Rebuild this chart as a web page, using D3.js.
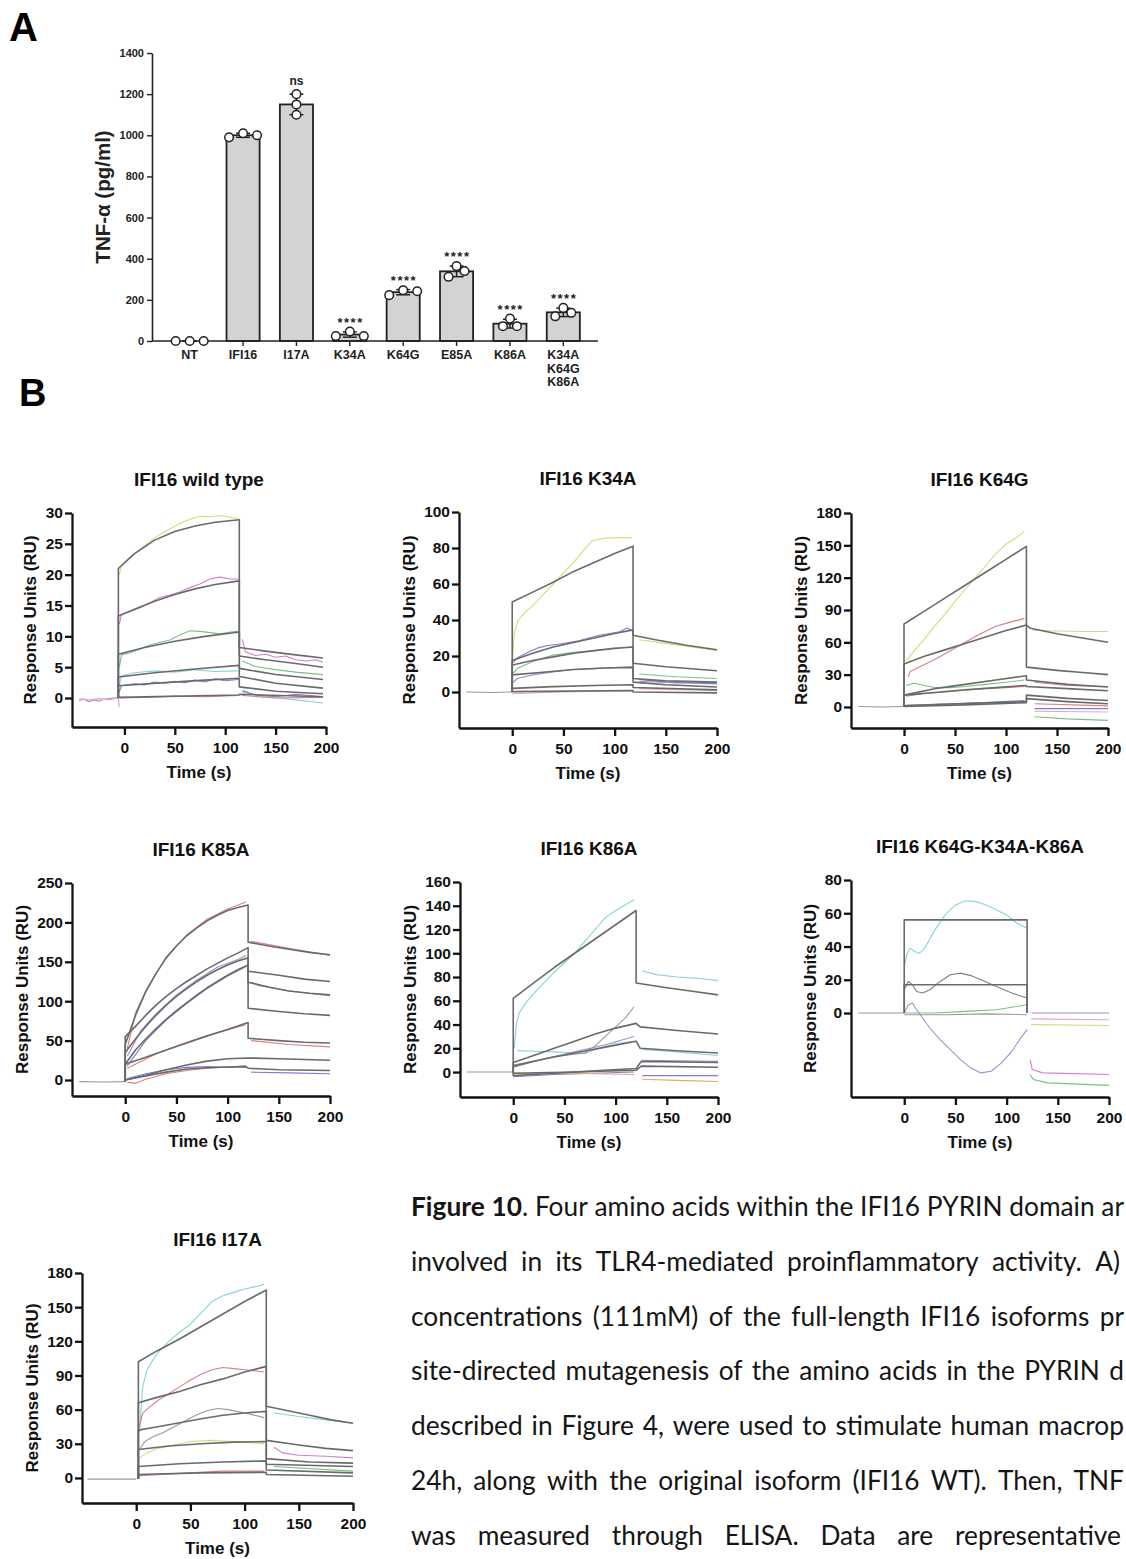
<!DOCTYPE html>
<html>
<head>
<meta charset="utf-8">
<script src="https://cdn.jsdelivr.net/npm/d3@7"></script>
<style>
  body { margin: 0; background: #fff; overflow: hidden; }
  svg { display: block; }
</style>
</head>
<body>
<div id="fig"></div>
<script>
// ---------- panel A : TNF-alpha ELISA ----------
const tnfCats  = ["NT", "IFI16", "I17A", "K34A", "K64G", "E85A", "K86A", "K34A\nK64G\nK86A"];
const tnfReps  = [[0, 0, 0], [990, 1010, 1000], [1200, 1150, 1100], [24, 46, 24],
                  [223, 247, 242], [312, 364, 340], [72, 109, 72], [120, 161, 137]];
const tnfSig   = ["", "", "ns", "****", "****", "****", "****", "****"];
const tnfTicks = [0, 200, 400, 600, 800, 1000, 1200, 1400];

// ---------- panel B : SPR sensorgrams, [time s, RU], null = gap ----------
const spTitles  = ["IFI16 wild type", "IFI16 K34A", "IFI16 K64G", "IFI16 K85A",
                   "IFI16 K86A", "IFI16 K64G-K34A-K86A", "IFI16 I17A"];
const timeTicks = [0, 50, 100, 150, 200];

const wtTicks = [0, 5, 10, 15, 20, 25, 30];
const wtFit = [
  [[-6,0],[-6,21],[10,23.4],[30,25.6],[50,27],[70,27.9],[90,28.5],[114,28.9],[114,8.2],[140,7.6],[170,7.0],[197,6.5]],
  [[-6,0],[-6,13.3],[10,14.4],[30,15.7],[50,16.8],[70,17.7],[90,18.4],[114,19],[114,6.8],[140,6.2],[170,5.6],[197,5.0]],
  [[-6,0],[-6,7.1],[20,8.2],[50,9.2],[80,10.0],[114,10.7],[114,4.8],[150,3.8],[197,3.0]],
  [[-6,0],[-6,3.4],[30,4.1],[70,4.7],[114,5.3],[114,3.5],[150,2.4],[197,1.6]],
  [[-6,0],[-6,2.0],[40,2.5],[80,2.9],[114,3.2],[114,1.8],[150,1.1],[197,0.7]],
  [[-6,0],[-6,0.1],[114,0.5],[114,0.6],[197,0.2]]
];
const wtRaw = [
  [[-5,20],[-3,21.5],[5,22.8],[15,24],[25,25.4],[35,26.5],[45,27.4],[55,28.3],[65,29],[75,29.5],[85,29.4],[95,29.6],[105,29.3],[113,29.1]],
  [[-5,12],[-3,13.5],[5,14],[15,14.6],[25,15.4],[35,16.3],[45,16.7],[55,17.2],[65,17.9],[75,18.5],[85,19.3],[95,19.6],[105,19.3],[113,19.3],null,
   [117,9.5],[120,7.5],[130,6.9],[140,7.1],[150,6.6],[160,6.8],[170,6.2],[180,6.0],[190,6.2],[197,5.8]],
  [[-5,5],[-3,7],[5,7.3],[15,7.9],[25,8.6],[35,9.0],[45,9.4],[55,10.2],[65,10.9],[75,10.8],[85,10.6],[95,10.4],[105,10.7],[113,10.8],null,
   [117,6],[130,5.1],[150,4.6],[170,4.2],[197,3.8]],
  [[-5,2],[-3,3.6],[10,4.1],[30,4.4],[50,4.2],[70,4.6],[90,4.3],[113,4.4],null,[117,1.0],[140,0.2],[170,-0.3],[197,-0.8]],
  [[-5,1],[-3,2.0],[10,2.3],[20,2.1],[30,2.6],[40,2.4],[50,2.7],[60,2.5],[70,2.9],[80,2.6],[90,3.1],[100,2.8],[113,3.0],null,
   [117,1.2],[130,0.5],[150,0.2],[170,0.6],[197,0.2]],
  [[-5,0],[20,0.1],[50,0.3],[80,0.2],[113,0.4],null,[117,0.4],[150,0],[197,0.1]],
  [[-45,-0.4],[-40,-0.2],[-35,-0.6],[-30,-0.3],[-25,-0.5],[-20,-0.2],[-15,-0.1],[-10,0],[-6,0]],
  [[-45,-0.1],[-35,-0.3],[-25,-0.1],[-15,-0.3],[-6,0.1],[-5,-1.5]]
];

const k34Ticks = [0, 20, 40, 60, 80, 100];
const k34Fit = [
  [[0,0],[0,50],[20,55.5],[40,61],[60,67],[80,72],[100,77],[118,81],[118,31.5],[140,29],[170,26],[200,23.5]],
  [[0,0],[0,17.5],[20,21.5],[40,25],[60,27.5],[80,30],[100,32.5],[118,34.5],[118,16],[150,14],[200,11.8]],
  [[0,0],[0,15],[20,17.5],[40,19.5],[60,21.5],[80,23],[100,24.2],[118,25],[118,7.5],[150,6.2],[200,5.5]],
  [[0,0],[0,9.5],[30,11],[60,12.5],[90,13.3],[118,13.7],[118,5.5],[150,4],[200,2.8]],
  [[0,0],[0,2],[40,3],[80,3.6],[118,4],[118,2.5],[200,1.2]],
  [[0,0],[0,0.2],[118,0.8],[118,0],[200,-0.5]]
];
const k34Raw = [
  [[0,17],[2,33],[6,40],[12,44],[20,48],[30,54],[40,60],[50,66],[60,72],[70,79],[78,84],[90,85.5],[105,85.8],[117,85.6],null,
   [124,29],[150,27],[175,25],[200,23]],
  [[0,16],[5,19],[15,22],[25,24.5],[35,25.8],[45,26.5],[55,27.5],[65,28.5],[75,30],[85,31.5],[95,32.5],[105,33.5],[112,35.5],[117,34],null,
   [124,7],[150,5.5],[200,4.5]],
  [[0,10],[5,13],[20,17],[40,20.5],[60,22],[80,23],[100,24.5],[117,25],null,[124,10],[160,8.5],[200,7.5]],
  [[0,5],[5,7.5],[20,9.5],[40,11.2],[60,12.5],[80,13],[100,13.6],[117,13.8],null,[124,6],[160,5],[200,5.4]],
  [[0,-1],[30,-0.3],[60,0.2],[90,0.5],[117,0.6],null,[124,1.8],[200,0.8]],
  [[-45,0],[-20,-0.3],[0,0]]
];

const k64Ticks = [0, 30, 60, 90, 120, 150, 180];
const k64Fit = [
  [[0,0],[0,77],[20,89],[40,101],[60,113],[80,125],[100,137],[120,149],[120,37],[150,34],[175,32],[200,30]],
  [[0,0],[0,40],[20,47],[40,53],[60,59],[80,65],[100,71],[120,76],[124,73],[150,68],[175,64],[200,60]],
  [[0,0],[0,11],[30,17],[60,21],[90,25],[120,29],[120,25],[160,21],[200,18.6]],
  [[0,0],[0,11],[30,13.5],[60,16],[90,18],[120,20],[120,19],[160,17],[200,15]],
  [[0,0],[0,1],[40,2.5],[80,3.8],[120,5],[120,11],[160,8],[200,6]],
  [[0,0],[0,0.5],[60,2],[120,4],[120,7.8],[160,5],[200,3]]
];
const k64Raw = [
  [[2,43],[10,52],[20,63],[30,75],[40,86],[50,98],[60,109],[70,120],[80,131],[90,142],[100,151],[110,157],[118,163],null,
   [126,71],[150,70.5],[175,70],[200,70]],
  [[4,28],[6,33],[15,37],[30,44],[45,52],[60,60],[75,68],[90,75],[105,79],[118,82],null,[128,23],[160,20],[200,19]],
  [[2,20],[10,22],[20,20],[30,18],[45,18],[60,19],[80,21],[100,23],[118,25],null,[128,-9],[160,-11],[200,-12.4]],
  [[2,10],[20,12.5],[40,14],[60,15.5],[80,17],[100,18],[118,19],null,[128,3],[200,1]],
  [[2,1.5],[30,2.5],[60,3.5],[90,4.5],[118,6],null,[128,-1.5],[200,-1.5]],
  [[128,-4],[200,-4.7]],
  [[-45,0.5],[-20,0],[0,0.5]]
];

const k85Ticks = [0, 50, 100, 150, 200, 250];
const k85Fit = [
  [[0,-2],[0,45],[10,82],[20,112],[30,135],[40,155],[50,170],[60,183],[70,193],[80,202],[90,209],[100,215],[110,219],[120,222],
   [120,175],[140,170],[160,166],[180,162],[200,159]],
  [[0,-2],[0,55],[10,68],[20,82],[30,95],[40,106],[50,116],[60,125],[70,133],[80,141],[90,148],[100,155],[110,161],[120,168],
   [120,138],[150,133],[175,128],[200,125]],
  [[0,-2],[0,35],[10,52],[20,68],[30,82],[40,95],[50,106],[60,116],[70,125],[80,133],[90,140],[100,146],[110,151],[120,155],
   [120,124],[140,118],[160,113],[180,110],[200,108]],
  [[0,-2],[0,20],[10,38],[20,52],[30,65],[40,77],[50,88],[60,98],[70,108],[80,117],[90,125],[100,133],[110,140],[120,146],
   [120,91],[150,87],[175,84],[200,82]],
  [[0,-2],[0,20],[20,29],[40,38],[60,47],[80,56],[100,64],[120,73],[120,53],[150,50],[175,48],[200,47]],
  [[0,-2],[0,0],[20,6],[40,13],[60,19],[80,24],[100,27],[120,28],[150,27],[200,25]],
  [[0,-2],[0,0],[20,5],[40,10],[60,14],[80,15.5],[100,16.5],[118,17],[120,15],[150,13],[200,12]]
];
const k85Raw = [
  [[2,40],[10,85],[20,113],[40,156],[60,184],[80,204],[100,217],[118,226],null,[123,176],[160,167],[200,158]],
  [[2,30],[15,62],[30,84],[50,108],[70,127],[90,143],[110,153],[118,158],null,[124,124],[130,120],[160,113],[200,107]],
  [[2,18],[20,50],[40,76],[60,97],[80,116],[100,132],[118,144]],
  [[2,15],[30,33],[60,48],[90,60],[118,70],null,[123,50],[160,45],[200,42]],
  [[2,2],[20,8],[40,13],[60,16],[80,17],[100,16],[118,18],null,[123,10],[160,9],[200,8]],
  [[2,-3],[10,-4],[20,1],[40,8],[60,12],[80,15],[100,16.5],[118,17]],
  [[-45,-2],[-20,-2.5],[0,-2]]
];

const k86Ticks = [0, 20, 40, 60, 80, 100, 120, 140, 160];
const k86Fit = [
  [[0,0],[0,62],[20,75],[40,88],[60,100],[80,112],[100,124],[120,136],[120,75],[150,71],[175,68],[200,65]],
  [[0,0],[0,8],[20,14],[40,20],[60,26],[80,32],[100,37],[120,41],[124,38],[160,35],[200,32]],
  [[0,0],[0,5],[30,11],[60,16],[90,21],[120,26],[124,20],[160,18],[200,16]],
  [[0,0],[0,-3],[40,-1],[80,1],[120,3],[125,9],[200,8]],
  [[0,0],[0,-1],[60,0],[120,1.5],[125,5],[200,4]]
];
const k86Raw = [
  [[1,20],[3,40],[6,50],[12,58],[20,66],[30,75],[40,84],[50,92],[60,100],[70,110],[80,120],[90,130],[100,136],[110,141],[118,145],null,
   [126,85],[140,82],[160,80],[180,79],[200,77]],
  [[4,18],[20,17.5],[40,17],[60,16],[70,15.5],[80,19],[100,24],[118,26],null,[126,19],[160,17],[200,14]],
  [[0,4],[20,9],[40,13],[60,15],[70,16],[80,22],[90,30],[100,38],[110,46],[118,55]],
  [[0,6],[30,11],[60,17],[90,23],[118,30],null,[126,10],[200,9]],
  [[0,-4],[40,-2],[80,-1],[118,0],null,[126,-3],[200,-3]],
  [[0,-1],[60,-1],[118,-2],null,[126,-6],[160,-7],[200,-8]],
  [[-45,0],[0,0]]
];

const triTicks = [0, 20, 40, 60, 80];
const triFit = [
  [[0,0],[0,56],[120,56],[120,0]],
  [[0,0],[0,17],[120,17],[120,0]]
];
const triRaw = [
  [[0,28],[3,36],[6,39],[10,37],[15,36],[20,39],[30,50],[40,59],[50,65],[60,67.5],[70,67],[80,65],[90,62],[100,59],[110,54],[120,51]],
  [[0,14],[4,19],[8,17],[12,13],[18,12],[25,14],[35,19],[45,23],[55,24],[65,22.5],[75,20],[90,16],[105,12],[120,9]],
  [[0,0],[4,5],[8,6],[12,2],[18,-3],[25,-9],[35,-16],[45,-22],[55,-28],[65,-33],[75,-36],[85,-35],[95,-30],[105,-23],[115,-14],[120,-10]],
  [[0,0],[30,0],[60,1],[90,2],[120,5]],
  [[0,-1],[40,-1],[80,-0.5],[120,-1]],
  [[124,0],[200,0]],
  [[124,-3.5],[200,-4]],
  [[124,-7],[200,-7.5]],
  [[123,-28],[125,-34],[135,-36],[200,-37]],
  [[123,-37],[126,-40],[140,-42],[200,-43.5]],
  [[-45,0],[0,0]]
];

const i17Ticks = [0, 30, 60, 90, 120, 150, 180];
const i17Fit = [
  [[2,-1],[2,102],[20,112],[40,122],[60,133],[80,144],[100,155],[120,165],[120,63],[140,59],[160,55],[180,51],[200,48]],
  [[2,-1],[2,66],[20,71],[40,76],[60,82],[80,87],[100,93],[120,98],[120,33],[150,29],[175,26],[200,24]],
  [[2,-1],[2,42],[20,45],[40,48.5],[60,52],[80,55],[100,57],[120,58.5],[120,17],[160,14],[200,13]],
  [[2,-1],[2,25],[30,28],[60,30],[90,31.5],[120,32],[120,12],[200,10]],
  [[2,-1],[2,10],[40,12.5],[80,14],[120,15],[120,7],[200,4.5]],
  [[2,-1],[2,3],[60,4.5],[120,5],[120,3],[200,1.5]]
];
const i17Raw = [
  [[3,40],[6,80],[10,95],[15,103],[20,110],[30,120],[40,128],[50,135],[60,145],[70,155],[80,160],[90,163],[100,166],[110,168],[118,170],null,
   [127,57],[150,54],[175,51],[200,48]],
  [[3,45],[6,57],[12,62],[20,68],[30,74],[40,80],[50,86],[60,91],[70,95],[80,97],[90,96],[100,95],[110,94],[118,93]],
  [[3,25],[8,32],[15,36],[25,40],[35,45],[45,50],[55,55],[65,59],[75,61],[85,60],[95,58],[105,56],[118,53]],
  [[3,18],[10,22],[20,26],[35,29],[50,32],[70,33],[90,32],[118,30]],
  [[127,27],[135,22],[150,20],[175,19],[200,17.6]],
  [[3,2],[40,4],[80,6],[118,6]],
  [[127,10],[200,6]],
  [[-45,-1],[0,-1]]
];

// ---------- caption ----------
const captionLines = [
  "Figure 10. Four amino acids within the IFI16 PYRIN domain ar",
  "involved in its TLR4-mediated proinflammatory activity. A)",
  "concentrations (111mM) of the full-length IFI16 isoforms pr",
  "site-directed mutagenesis of the amino acids in the PYRIN d",
  "described in Figure 4, were used to stimulate human macrop",
  "24h, along with the original isoform (IFI16 WT). Then, TNF",
  "was measured through ELISA. Data are representative"
];

// ================= drawing =================
const FONT = "'Liberation Sans', Arial, Helvetica, sans-serif";
const svg = d3.select("#fig").append("svg")
  .attr("width", 1126).attr("height", 1559)
  .attr("font-family", FONT);

svg.append("text").attr("x", 9).attr("y", 41).attr("font-size", 40)
  .attr("font-weight", "bold").text("A");
svg.append("text").attr("x", 19).attr("y", 406).attr("font-size", 38)
  .attr("font-weight", "bold").text("B");

// ---- panel A ----
(function () {
  const g = svg.append("g");
  const ink = "#222";
  const x = d3.scaleBand().domain(d3.range(tnfCats.length))
    .range([163, 590]).paddingInner(0.38).paddingOuter(0.19);
  const y = d3.scaleLinear().domain([0, 1400]).range([341, 53]);
  const cx = i => x(i) + x.bandwidth() / 2;
  // jitter of replicate dots inside a bar
  const repShift = [[-14,0,14],[-14,0,14],[0,0,0],[-14,0,14],[-14,0,14],[-8,0,8],[-7,0,7],[-8,0,8]];

  const mean = tnfReps.map(r => d3.mean(r));
  const sd = tnfReps.map(r => d3.deviation(r) || 0);

  g.selectAll("rect.bar").data(mean).join("rect")
    .attr("x", (d, i) => x(i)).attr("width", x.bandwidth())
    .attr("y", d => y(d)).attr("height", d => y(0) - y(d))
    .attr("fill", "#d3d3d3").attr("stroke", ink).attr("stroke-width", 1.8);

  const ax = g.append("g").attr("transform", "translate(152,0)")
    .call(d3.axisLeft(y).tickValues(tnfTicks).tickFormat(d3.format("d"))
      .tickSize(5).tickPadding(3).tickSizeOuter(0));
  ax.attr("font-family", FONT);
  ax.select(".domain").attr("stroke", ink).attr("stroke-width", 1.6);
  ax.selectAll(".tick line").attr("stroke", ink).attr("stroke-width", 1.4);
  ax.selectAll(".tick text").attr("font-size", 11).attr("font-weight", "bold").attr("fill", ink);

  const bx = g.append("g").attr("transform", "translate(0,341)")
    .call(d3.axisBottom(x).tickSize(5).tickSizeOuter(0).tickFormat(""));
  bx.select(".domain").attr("d", "M152,0H598").attr("stroke", ink).attr("stroke-width", 1.6);
  bx.selectAll(".tick line").attr("stroke", ink).attr("stroke-width", 1.4);

  tnfCats.forEach((c, i) => {
    const t = g.append("text").attr("text-anchor", "middle").attr("font-size", 12.5)
      .attr("font-weight", "bold").attr("fill", ink).attr("y", 359);
    c.split("\n").forEach((s, j) => t.append("tspan").attr("x", cx(i)).attr("dy", j ? 13.5 : 0).text(s));
  });

  // error bars (mean +/- SD)
  mean.forEach((m, i) => {
    const eg = g.append("g").attr("stroke", ink).attr("stroke-width", 1.5);
    eg.append("line").attr("x1", cx(i)).attr("x2", cx(i)).attr("y1", y(m - sd[i])).attr("y2", y(m + sd[i]));
    [m - sd[i], m + sd[i]].forEach(v => eg.append("line")
      .attr("x1", cx(i) - 7).attr("x2", cx(i) + 7).attr("y1", y(v)).attr("y2", y(v)));
  });

  tnfReps.forEach((r, i) => {
    g.selectAll(null).data(r).join("circle")
      .attr("cx", (d, k) => cx(i) + repShift[i][k]).attr("cy", d => y(d)).attr("r", 4.3)
      .attr("fill", "#fff").attr("stroke", ink).attr("stroke-width", 1.5);
    if (tnfSig[i]) {
      const ns = tnfSig[i] === "ns";
      g.append("text").attr("x", cx(i) + (ns ? 0 : 0.8)).attr("y", y(d3.max(r)) - (ns ? 9 : 5))
        .attr("text-anchor", "middle").attr("font-weight", "bold").attr("fill", ink)
        .attr("font-size", ns ? 12 : 13).attr("letter-spacing", ns ? 0 : 1.5)
        .text(tnfSig[i]);
    }
  });

  g.append("text").attr("transform", `translate(110,${(y(0) + y(1400)) / 2}) rotate(-90)`)
    .attr("text-anchor", "middle").attr("font-size", 20.5).attr("font-weight", "bold").attr("fill", ink)
    .text("TNF-\u03b1 (pg/ml)");
})();

// ---- panel B ----
const C = { yel: "#dcd77e", mag: "#d47cd4", grn: "#7cbf86", cya: "#86d4d8", blu: "#7c7cd8",
            red: "#d88080", pur: "#a98ad0", pnk: "#e5a3c4", org: "#e3a86e", gry: "#9a9a9a", dk: "#808080" };

const spPanels = [
  { fit: wtFit,  raw: wtRaw,  ticks: wtTicks,  x0: 72,  x1: 326,  yB: 727,  yT: 513,  yMin: -4.7,  xMin: -52,
    col: [C.yel, C.mag, C.grn, C.cya, C.blu, C.red, C.pur, C.pnk] },
  { fit: k34Fit, raw: k34Raw, ticks: k34Ticks, x0: 459, x1: 717,  yB: 728,  yT: 512,  yMin: -20,   xMin: -52,
    col: [C.yel, C.blu, C.grn, C.pur, C.pnk, C.gry] },
  { fit: k64Fit, raw: k64Raw, ticks: k64Ticks, x0: 851, x1: 1108, yB: 728,  yT: 513,  yMin: -19.5, xMin: -52,
    col: [C.yel, C.red, C.grn, C.red, C.blu, C.pnk, C.gry] },
  { fit: k85Fit, raw: k85Raw, ticks: k85Ticks, x0: 72,  x1: 330,  yB: 1096, yT: 883,  yMin: -20.3, xMin: -52,
    col: [C.red, C.pur, C.blu, C.red, C.blu, C.red, C.gry] },
  { fit: k86Fit, raw: k86Raw, ticks: k86Ticks, x0: 460, x1: 718,  yB: 1097, yT: 882,  yMin: -21,   xMin: -52,
    col: [C.cya, C.cya, C.gry, C.pur, C.blu, C.org, C.gry] },
  { fit: triFit, raw: triRaw, ticks: triTicks, x0: 851, x1: 1109, yB: 1097, yT: 880,  yMin: -50.5, xMin: -52,
    col: [C.cya, C.dk, C.pur, C.grn, C.gry, C.pur, C.pnk, C.yel, C.mag, C.grn, C.gry] },
  { fit: i17Fit, raw: i17Raw, ticks: i17Ticks, x0: 82,  x1: 353,  yB: 1503, yT: 1273, yMin: -22,   xMin: -50,
    col: [C.cya, C.red, C.gry, C.yel, C.mag, C.red, C.grn, C.gry] }
];

spPanels.forEach((p, idx) => {
  const g = svg.append("g");
  const yMax = p.ticks[p.ticks.length - 1];
  const x = d3.scaleLinear().domain([p.xMin, 200]).range([p.x0, p.x1]);
  const y = d3.scaleLinear().domain([p.yMin, yMax]).range([p.yB, p.yT]);
  const line = d3.line().defined(d => d).x(d => x(d[0])).y(d => y(d[1]));

  g.selectAll("path.raw").data(p.raw).join("path")
    .attr("d", line).attr("fill", "none")
    .attr("stroke", (d, i) => p.col[i % p.col.length])
    .attr("stroke-width", 1.1).attr("stroke-linejoin", "round");

  g.selectAll("path.fit").data(p.fit).join("path")
    .attr("d", line).attr("fill", "none")
    .attr("stroke", "#6a6a6a").attr("stroke-width", 1.6).attr("stroke-linejoin", "round");

  const ax = g.append("g").attr("transform", `translate(0,${p.yB})`)
    .call(d3.axisBottom(x).tickValues(timeTicks).tickSize(8).tickPadding(7).tickSizeOuter(0));
  const ay = g.append("g").attr("transform", `translate(${p.x0},0)`)
    .call(d3.axisLeft(y).tickValues(p.ticks).tickSize(7).tickPadding(2).tickSizeOuter(0));
  [ax, ay].forEach(a => {
    a.attr("font-family", FONT);
    a.select(".domain").attr("stroke", "#111").attr("stroke-width", 2.3);
    a.selectAll(".tick line").attr("stroke", "#111").attr("stroke-width", 2.3);
    a.selectAll(".tick text").attr("font-size", 15.5).attr("font-weight", "bold").attr("fill", "#111");
  });

  const labW = d3.max(ay.selectAll(".tick text").nodes(), n => n.getBBox().width);

  g.append("text").attr("x", (p.x0 + p.x1) / 2).attr("y", p.yB + 51)
    .attr("text-anchor", "middle").attr("font-size", 17).attr("font-weight", "bold").attr("fill", "#111")
    .text("Time (s)");
  g.append("text")
    .attr("transform", `translate(${p.x0 - 9 - labW - 9},${(p.yB + p.yT) / 2}) rotate(-90)`)
    .attr("text-anchor", "middle").attr("font-size", 17).attr("font-weight", "bold").attr("fill", "#111")
    .text("Response Units (RU)");
  g.append("text").attr("x", (p.x0 + p.x1) / 2).attr("y", p.yT - 27)
    .attr("text-anchor", "middle").attr("font-size", 19).attr("font-weight", "bold").attr("fill", "#111")
    .text(spTitles[idx]);
});

// ---- caption (justified lines, running up to the right edge) ----
(function () {
  const capX = 411, capY0 = 1216, capStep = 54.8;
  const capEnd = [1124, 1120, 1124, 1124, 1124, 1124, 1121];
  const g = svg.append("g").attr("font-family", "Lato, 'Open Sans', sans-serif").attr("fill", "#151515");
  const base = 22;

  const rows = captionLines.map((ln, i) => ln.split(" ").map((w, j) => {
    const t = g.append("text").attr("font-size", base).attr("y", capY0 + i * capStep);
    if (i === 0 && j === 0) t.append("tspan").attr("font-weight", "bold").text(w);
    else if (i === 0 && j === 1) {
      t.append("tspan").attr("font-weight", "bold").text("10");
      t.append("tspan").text(w.slice(2));
    } else t.text(w);
    return t;
  }));

  const probe = g.append("text").attr("font-size", base).text("a\u00a0a");
  const probe2 = g.append("text").attr("font-size", base).text("aa");
  const space = probe.node().getComputedTextLength() - probe2.node().getComputedTextLength();
  probe.remove(); probe2.remove();

  const w0 = rows[0].map(t => t.node().getComputedTextLength());
  const natural = d3.sum(w0) + space * (w0.length - 1);
  const k = (capEnd[0] - capX) / natural;
  const fs = base * k;

  rows.forEach((ws, i) => {
    const widths = ws.map(t => t.node().getComputedTextLength() * k);
    const gap = (capEnd[i] - capX - d3.sum(widths)) / (ws.length - 1);
    let xx = capX;
    ws.forEach((t, j) => {
      t.attr("font-size", fs).attr("x", xx);
      xx += widths[j] + gap;
    });
  });
})();
</script>
</body>
</html>
